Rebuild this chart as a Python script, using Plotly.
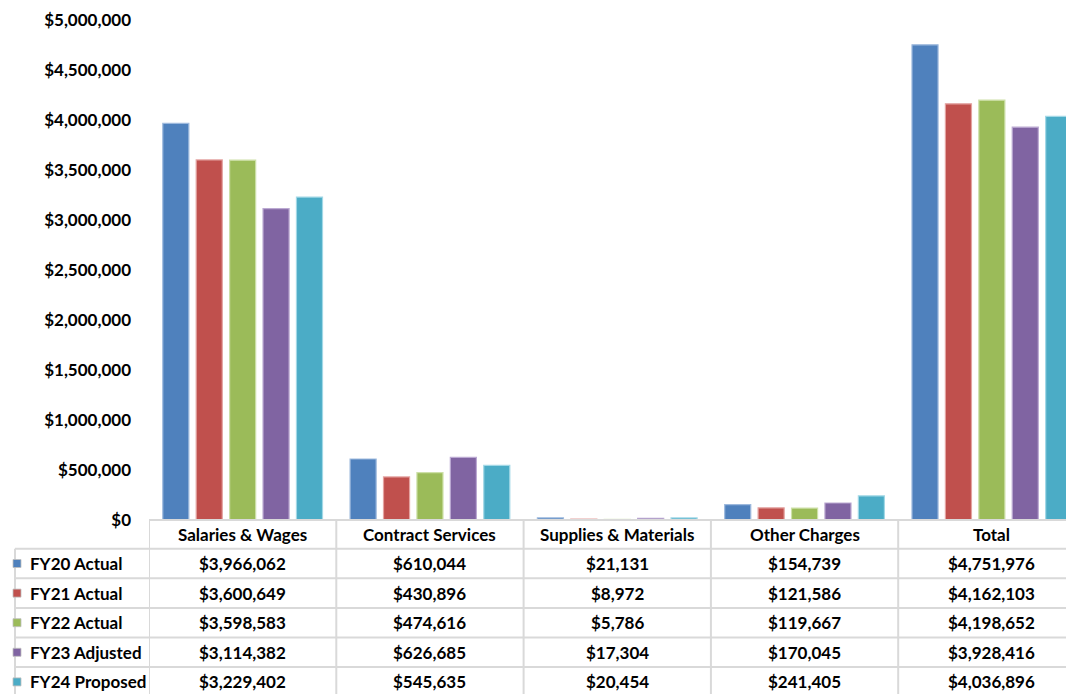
import plotly.graph_objects as go

categories = ["Salaries & Wages", "Contract Services", "Supplies & Materials", "Other Charges", "Total"]
series_names = ["FY20 Actual", "FY21 Actual", "FY22 Actual", "FY23 Adjusted", "FY24 Proposed"]
fy20 = [3966062, 610044, 21131, 154739, 4751976]
fy21 = [3600649, 430896, 8972, 121586, 4162103]
fy22 = [3598583, 474616, 5786, 119667, 4198652]
fy23 = [3114382, 626685, 17304, 170045, 3928416]
fy24 = [3229402, 545635, 20454, 241405, 4036896]
series_values = [fy20, fy21, fy22, fy23, fy24]
colors = ["#4F81BD", "#C0504D", "#9BBB59", "#8064A2", "#4BACC6"]
edge_colors = ["#9DB9DD", "#E4A3A1", "#CDE0A8", "#BBA9D2", "#A2D8E6"]

OFF = 8  # page body offset
W, H = 1074 - OFF, 694 - OFF
L, T = 149 - OFF, 20 - OFF
ZERO = 520 - OFF
B = H - ZERO
plot_w = W - L
plot_h = H - T - B
cat_px = 187.3
x_max = -0.5 + plot_w / cat_px

FONT = "Lato"
GRID = "#D9D9D9"

fig = go.Figure()
for name, vals, c, ec in zip(series_names, series_values, colors, edge_colors):
    fig.add_trace(go.Bar(
        name=name, x=categories, y=vals,
        marker=dict(color=c, line=dict(color=ec, width=1.2)),
        showlegend=False,
    ))

def py(p):
    return (ZERO - (p - OFF)) / plot_h

def px(p):
    return (p - OFF - L) / plot_w

shapes = []
annotations = []

header_top = 520
header_h = 28.7
row_h = 29.6
rows_top = header_top + header_h
legend_left = 7 + OFF

shapes.append(dict(type="line", xref="paper", yref="paper",
                   x0=px(149), x1=px(1100), y0=py(header_top), y1=py(header_top),
                   line=dict(color=GRID, width=2)))
for i in range(len(series_names) + 1):
    yy = rows_top + i * row_h
    shapes.append(dict(type="line", xref="paper", yref="paper",
                       x0=px(legend_left), x1=px(1100), y0=py(yy), y1=py(yy),
                       line=dict(color=GRID, width=2)))
bottom = rows_top + len(series_names) * row_h
shapes.append(dict(type="line", xref="paper", yref="paper",
                   x0=px(legend_left), x1=px(legend_left), y0=py(rows_top), y1=py(bottom),
                   line=dict(color=GRID, width=2)))
for k in range(len(categories) + 1):
    shapes.append(dict(type="line", xref="x", yref="paper",
                       x0=k - 0.5, x1=k - 0.5, y0=py(header_top), y1=py(bottom),
                       line=dict(color=GRID, width=2)))

tfont = dict(family=FONT, size=17, color="#000000", weight="bold")

for k, cat in enumerate(categories):
    annotations.append(dict(x=k, y=py(header_top + header_h / 2), xref="x", yref="paper",
                            text=cat, showarrow=False, font=tfont,
                            xanchor="center", yanchor="middle"))
    for i, vals in enumerate(series_values):
        annotations.append(dict(x=k, y=py(rows_top + (i + 0.5) * row_h), xref="x", yref="paper",
                                text=f"${vals[k]:,}", showarrow=False, font=tfont,
                                xanchor="center", yanchor="middle"))

for i, (name, c) in enumerate(zip(series_names, colors)):
    yc = rows_top + (i + 0.5) * row_h
    shapes.append(dict(type="rect", xref="paper", yref="paper",
                       x0=px(13), x1=px(21), y0=py(yc - 4), y1=py(yc + 4),
                       fillcolor=c, line=dict(color="#BFBFBF", width=0.8)))
    annotations.append(dict(x=px(28), y=py(yc), xref="paper", yref="paper",
                            text=name, showarrow=False, font=tfont,
                            xanchor="left", yanchor="middle"))

fig.update_layout(
    width=W, height=H,
    margin=dict(l=L, r=0, t=T, b=B, pad=0),
    paper_bgcolor="white", plot_bgcolor="white",
    barmode="group", bargap=0.108, bargroupgap=0.22,
    shapes=shapes, annotations=annotations,
    xaxis=dict(range=[-0.5, x_max], showticklabels=False, showgrid=False,
               zeroline=False, showline=False, ticks=""),
    yaxis=dict(range=[0, 5000000], dtick=500000, tickformat="$,.0f",
               showgrid=False, zeroline=False, showline=False, ticks="",
               ticklabelstandoff=17,
               tickfont=dict(family=FONT, size=17, color="#000000", weight="bold")),
)

fig.write_html("out.html")
